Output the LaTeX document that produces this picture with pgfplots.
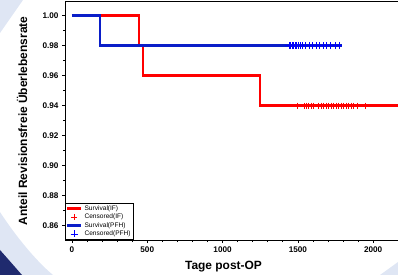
\documentclass[border=0pt]{standalone}
\usepackage{fontspec}
\setmainfont{Liberation Sans}
\usepackage{pgfplots}
\pgfplotsset{compat=1.18}
\definecolor{bgblue}{HTML}{DFE6F4}
\definecolor{navy}{HTML}{1F2A6E}
\definecolor{lineblue}{HTML}{0A1EC8}
\pgfplotsset{
  legline/.style={legend image code/.code={\draw[##1] (0bp,0bp) -- (14bp,0bp);}},
  legmark/.style={legend image code/.code={\draw[##1] plot coordinates {(7bp,0bp)};}},
}
\begin{document}
\begin{tikzpicture}[x=1bp,y=1bp]
\fill[bgblue] (0,275) -- (23,275) -- (0,242) -- cycle;
\fill[bgblue] (0,63) .. controls (15,40) and (35,15) .. (53,0) -- (0,0) -- cycle;
\fill[navy] (0,25) .. controls (8,16) and (15,8) .. (22,0) -- (0,0) -- cycle;
\fill[bgblue] (380,0) -- (398,13) -- (398,0) -- cycle;
\begin{axis}[
  at={(65bp,35bp)}, anchor=south west,
  scale only axis, width=338.3bp, height=238.2bp,
  xmin=-46, xmax=2200, ymin=0.8505, ymax=1.0093,
  axis line style={line width=0.9pt},
  tick align=outside, xtick pos=bottom, ytick pos=left,
  major tick length=3bp, minor tick length=2bp,
  every tick/.style={black, line width=0.7pt},
  xtick={0,500,1000,1500,2000},
  ytick={0.86,0.88,0.90,0.92,0.94,0.96,0.98,1.00},
  minor x tick num=4, minor y tick num=1,
  /pgf/number format/assume math mode=true,
  xticklabel style={font=\bfseries\fontsize{8.2}{9}\selectfont, /pgf/number format/1000 sep={}},
  yticklabel style={font=\bfseries\fontsize{8.2}{9}\selectfont, /pgf/number format/.cd, fixed, fixed zerofill, precision=2},
  xlabel={Tage post-OP},
  ylabel={Anteil Revisionsfreie Überlebensrate},
  xlabel style={font=\bfseries\fontsize{12}{14}\selectfont, at={(axis description cs:0.4685,0)}, anchor=base, yshift=-30bp},
  ylabel style={font=\bfseries\fontsize{12}{14}\selectfont, at={(axis description cs:-0.127,0.5)}, anchor=center},
  legend style={at={(0,0)}, anchor=south west, draw=black, line width=0.6pt,
    font=\fontsize{6.6}{7}\selectfont, inner sep=0.6pt, row sep=-1.8pt},
  legend cell align=left,
  clip=true,
]
\addplot[const plot, red, line width=2.7pt, legline]
  coordinates {(0,1.00) (445,1.00) (445,0.98) (471,0.98) (471,0.96) (1248,0.96) (1248,0.94) (2300,0.94)};
\addlegendentry{Survival(IF)}
\addplot[only marks, red, mark=+, mark size=3bp, line width=0.8pt, legmark]
  coordinates {(1494,0.94) (1541,0.94) (1554,0.94) (1567,0.94) (1587,0.94) (1600,0.94)
   (1633,0.94) (1653,0.94) (1667,0.94) (1687,0.94) (1700,0.94) (1720,0.94) (1733,0.94)
   (1753,0.94) (1766,0.94) (1786,0.94) (1800,0.94) (1819,0.94) (1833,0.94) (1853,0.94)
   (1866,0.94) (1892,0.94) (1946,0.94)};
\addlegendentry{Censored(IF)}
\addplot[const plot, lineblue, line width=2.7pt, legline]
  coordinates {(0,1.00) (186,1.00) (186,0.98) (1790,0.98)};
\addlegendentry{Survival(PFH)}
\addplot[only marks, blue, mark=+, mark size=3.5bp, line width=0.8pt, legmark]
  coordinates {(1441,0.98) (1451,0.98) (1461,0.98) (1471,0.98) (1481,0.98) (1491,0.98)
   (1501,0.98) (1514,0.98) (1527,0.98) (1547,0.98) (1574,0.98) (1594,0.98) (1620,0.98)
   (1640,0.98) (1667,0.98) (1687,0.98) (1713,0.98) (1746,0.98) (1773,0.98)};
\addlegendentry{Censored(PFH)}
\end{axis}
\pgfresetboundingbox
\useasboundingbox (0,0) rectangle (398,275);
\end{tikzpicture}
\end{document}
